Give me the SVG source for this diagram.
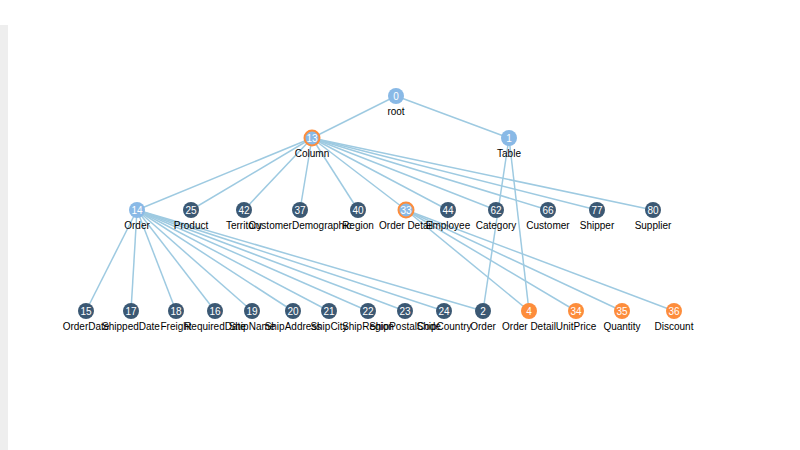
<svg xmlns="http://www.w3.org/2000/svg" width="800" height="450" viewBox="0 0 800 450">
<style>
.l{stroke:#9ecae1;stroke-width:1.5;fill:none}
.lb{fill:#89b9e6}
.dk{fill:#3b5873}
.or{fill:#fd8d3c}
.sel{stroke:#fd8d3c;stroke-width:2}
.num{font-family:"Liberation Sans",Arial,sans-serif;font-size:10px;fill:#fff;text-anchor:middle}
.lab{font-family:"Liberation Sans",Arial,sans-serif;font-size:10px;fill:#000;text-anchor:middle}
</style>
<rect x="0" y="25" width="8" height="425" fill="#eeeeee"/>
<g id="connectors">
<line class="l" x1="396" y1="96" x2="312" y2="138"/>
<line class="l" x1="396" y1="96" x2="509" y2="138"/>
<line class="l" x1="312" y1="138" x2="137" y2="210"/>
<line class="l" x1="312" y1="138" x2="191" y2="210"/>
<line class="l" x1="312" y1="138" x2="244" y2="210"/>
<line class="l" x1="312" y1="138" x2="300" y2="210"/>
<line class="l" x1="312" y1="138" x2="358" y2="210"/>
<line class="l" x1="312" y1="138" x2="406" y2="210"/>
<line class="l" x1="312" y1="138" x2="448" y2="210"/>
<line class="l" x1="312" y1="138" x2="496" y2="210"/>
<line class="l" x1="312" y1="138" x2="548" y2="210"/>
<line class="l" x1="312" y1="138" x2="597" y2="210"/>
<line class="l" x1="312" y1="138" x2="653" y2="210"/>
<line class="l" x1="509" y1="138" x2="483" y2="311"/>
<line class="l" x1="509" y1="138" x2="529" y2="311"/>
<line class="l" x1="137" y1="210" x2="86" y2="311"/>
<line class="l" x1="137" y1="210" x2="131" y2="311"/>
<line class="l" x1="137" y1="210" x2="176" y2="311"/>
<line class="l" x1="137" y1="210" x2="215" y2="311"/>
<line class="l" x1="137" y1="210" x2="252" y2="311"/>
<line class="l" x1="137" y1="210" x2="293" y2="311"/>
<line class="l" x1="137" y1="210" x2="329" y2="311"/>
<line class="l" x1="137" y1="210" x2="368" y2="311"/>
<line class="l" x1="137" y1="210" x2="405" y2="311"/>
<line class="l" x1="137" y1="210" x2="444" y2="311"/>
<line class="l" x1="137" y1="210" x2="483" y2="311"/>
<line class="l" x1="406" y1="210" x2="529" y2="311"/>
<line class="l" x1="406" y1="210" x2="576" y2="311"/>
<line class="l" x1="406" y1="210" x2="622" y2="311"/>
<line class="l" x1="406" y1="210" x2="674" y2="311"/>
</g>
<g id="n0"><circle class="lb" cx="396" cy="96" r="8"/><text class="num" x="396" y="99.5">0</text><text class="lab" x="396" y="115">root</text></g>
<g id="n13"><circle class="lb sel" cx="312" cy="138" r="7.5"/><text class="num" x="312" y="141.5">13</text><text class="lab" x="312" y="157">Column</text></g>
<g id="n1"><circle class="lb" cx="509" cy="138" r="8"/><text class="num" x="509" y="141.5">1</text><text class="lab" x="509" y="157">Table</text></g>
<g id="n14"><circle class="lb" cx="137" cy="210" r="8"/><text class="num" x="137" y="213.5">14</text><text class="lab" x="137" y="229">Order</text></g>
<g id="n25"><circle class="dk" cx="191" cy="210" r="8"/><text class="num" x="191" y="213.5">25</text><text class="lab" x="191" y="229">Product</text></g>
<g id="n42"><circle class="dk" cx="244" cy="210" r="8"/><text class="num" x="244" y="213.5">42</text><text class="lab" x="244" y="229">Territory</text></g>
<g id="n37"><circle class="dk" cx="300" cy="210" r="8"/><text class="num" x="300" y="213.5">37</text><text class="lab" x="300" y="229">CustomerDemographic</text></g>
<g id="n40"><circle class="dk" cx="358" cy="210" r="8"/><text class="num" x="358" y="213.5">40</text><text class="lab" x="358" y="229">Region</text></g>
<g id="n33"><circle class="lb sel" cx="406" cy="210" r="7.5"/><text class="num" x="406" y="213.5">33</text><text class="lab" x="406" y="229">Order Detail</text></g>
<g id="n44"><circle class="dk" cx="448" cy="210" r="8"/><text class="num" x="448" y="213.5">44</text><text class="lab" x="448" y="229">Employee</text></g>
<g id="n62"><circle class="dk" cx="496" cy="210" r="8"/><text class="num" x="496" y="213.5">62</text><text class="lab" x="496" y="229">Category</text></g>
<g id="n66"><circle class="dk" cx="548" cy="210" r="8"/><text class="num" x="548" y="213.5">66</text><text class="lab" x="548" y="229">Customer</text></g>
<g id="n77"><circle class="dk" cx="597" cy="210" r="8"/><text class="num" x="597" y="213.5">77</text><text class="lab" x="597" y="229">Shipper</text></g>
<g id="n80"><circle class="dk" cx="653" cy="210" r="8"/><text class="num" x="653" y="213.5">80</text><text class="lab" x="653" y="229">Supplier</text></g>
<g id="n15"><circle class="dk" cx="86" cy="311" r="8"/><text class="num" x="86" y="314.5">15</text><text class="lab" x="86" y="330">OrderDate</text></g>
<g id="n17"><circle class="dk" cx="131" cy="311" r="8"/><text class="num" x="131" y="314.5">17</text><text class="lab" x="131" y="330">ShippedDate</text></g>
<g id="n18"><circle class="dk" cx="176" cy="311" r="8"/><text class="num" x="176" y="314.5">18</text><text class="lab" x="176" y="330">Freight</text></g>
<g id="n16"><circle class="dk" cx="215" cy="311" r="8"/><text class="num" x="215" y="314.5">16</text><text class="lab" x="215" y="330">RequiredDate</text></g>
<g id="n19"><circle class="dk" cx="252" cy="311" r="8"/><text class="num" x="252" y="314.5">19</text><text class="lab" x="252" y="330">ShipName</text></g>
<g id="n20"><circle class="dk" cx="293" cy="311" r="8"/><text class="num" x="293" y="314.5">20</text><text class="lab" x="293" y="330">ShipAddress</text></g>
<g id="n21"><circle class="dk" cx="329" cy="311" r="8"/><text class="num" x="329" y="314.5">21</text><text class="lab" x="329" y="330">ShipCity</text></g>
<g id="n22"><circle class="dk" cx="368" cy="311" r="8"/><text class="num" x="368" y="314.5">22</text><text class="lab" x="368" y="330">ShipRegion</text></g>
<g id="n23"><circle class="dk" cx="405" cy="311" r="8"/><text class="num" x="405" y="314.5">23</text><text class="lab" x="405" y="330">ShipPostalCode</text></g>
<g id="n24"><circle class="dk" cx="444" cy="311" r="8"/><text class="num" x="444" y="314.5">24</text><text class="lab" x="444" y="330">ShipCountry</text></g>
<g id="n2"><circle class="dk" cx="483" cy="311" r="8"/><text class="num" x="483" y="314.5">2</text><text class="lab" x="483" y="330">Order</text></g>
<g id="n4"><circle class="or" cx="529" cy="311" r="8"/><text class="num" x="529" y="314.5">4</text><text class="lab" x="529" y="330">Order Detail</text></g>
<g id="n34"><circle class="or" cx="576" cy="311" r="8"/><text class="num" x="576" y="314.5">34</text><text class="lab" x="576" y="330">UnitPrice</text></g>
<g id="n35"><circle class="or" cx="622" cy="311" r="8"/><text class="num" x="622" y="314.5">35</text><text class="lab" x="622" y="330">Quantity</text></g>
<g id="n36"><circle class="or" cx="674" cy="311" r="8"/><text class="num" x="674" y="314.5">36</text><text class="lab" x="674" y="330">Discount</text></g>
</svg>
